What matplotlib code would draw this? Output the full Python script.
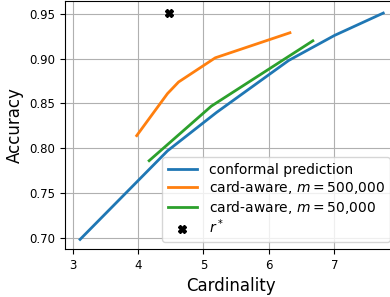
import matplotlib
matplotlib.use("Agg")
import matplotlib.pyplot as plt

cp_x = [3.115, 4.45, 5.2, 6.3, 7.0, 7.745]
cp_y = [0.698, 0.797, 0.840, 0.898, 0.926, 0.951]

ca500_x = [3.98, 4.45, 4.62, 5.18, 6.32]
ca500_y = [0.814, 0.861, 0.874, 0.901, 0.929]

ca50_x = [4.17, 5.12, 6.67]
ca50_y = [0.786, 0.847, 0.920]

rstar_x = [4.48]
rstar_y = [0.951]

fig = plt.figure(figsize=(3.9, 2.97), dpi=100)
ax = fig.add_axes([65/390, 48/297, 332/390, 248/297])
ax.plot(cp_x, cp_y, color="#1f77b4", lw=2, label="conformal prediction")
ax.plot(ca500_x, ca500_y, color="#ff7f0e", lw=2, label=r"card-aware, $m=500{,}000$")
ax.plot(ca50_x, ca50_y, color="#2ca02c", lw=2, label=r"card-aware, $m=50{,}000$")
ax.plot(rstar_x, rstar_y, ls="none", marker="X", color="black", ms=5.5, label=r"$r^*$")
ax.set_xlim(2.885, 7.955)
ax.set_ylim(0.6873, 0.9645)
ax.grid(True)
ax.set_xlabel("Cardinality", fontsize=12)
ax.set_ylabel("Accuracy", fontsize=12)
ax.tick_params(labelsize=8.5)
ax.set_xticks([3, 4, 5, 6, 7])
ax.set_yticks([0.70, 0.75, 0.80, 0.85, 0.90, 0.95])
ax.legend(loc="lower right", fontsize=10, labelspacing=0.17,
          handlelength=2.15, handletextpad=0.8)
fig.savefig("out.png", dpi=100)
